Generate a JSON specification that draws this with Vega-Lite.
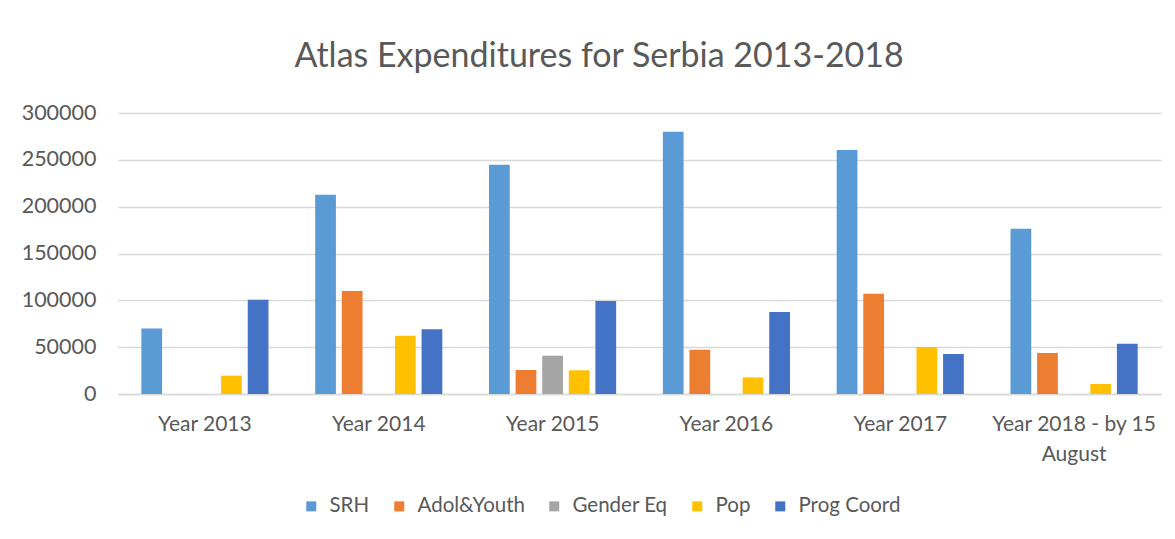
{
  "$schema": "https://vega.github.io/schema/vega-lite/v6.json",
  "width": 1043,
  "height": 281,
  "padding": {"left": 21, "top": 40, "right": 10, "bottom": 10},
  "background": "white",
  "title": {
    "text": "Atlas Expenditures for Serbia 2013-2018",
    "fontSize": 34,
    "font": "Lato",
    "fontWeight": "normal",
    "color": "#595959",
    "anchor": "middle",
    "frame": "bounds",
    "dx": 8,
    "offset": 28
  },
  "data": {
    "values": [
      {"year": "Year 2013", "area": "SRH", "value": 70000},
      {"year": "Year 2013", "area": "Adol&Youth", "value": 0},
      {"year": "Year 2013", "area": "Gender Eq", "value": 0},
      {"year": "Year 2013", "area": "Pop", "value": 19600},
      {"year": "Year 2013", "area": "Prog Coord", "value": 100700},
      {"year": "Year 2014", "area": "SRH", "value": 212800},
      {"year": "Year 2014", "area": "Adol&Youth", "value": 110000},
      {"year": "Year 2014", "area": "Gender Eq", "value": 0},
      {"year": "Year 2014", "area": "Pop", "value": 62300},
      {"year": "Year 2014", "area": "Prog Coord", "value": 69000},
      {"year": "Year 2015", "area": "SRH", "value": 244800},
      {"year": "Year 2015", "area": "Adol&Youth", "value": 25600},
      {"year": "Year 2015", "area": "Gender Eq", "value": 40900},
      {"year": "Year 2015", "area": "Pop", "value": 25300},
      {"year": "Year 2015", "area": "Prog Coord", "value": 99300},
      {"year": "Year 2016", "area": "SRH", "value": 280000},
      {"year": "Year 2016", "area": "Adol&Youth", "value": 47300},
      {"year": "Year 2016", "area": "Gender Eq", "value": 0},
      {"year": "Year 2016", "area": "Pop", "value": 17700},
      {"year": "Year 2016", "area": "Prog Coord", "value": 87500},
      {"year": "Year 2017", "area": "SRH", "value": 260500},
      {"year": "Year 2017", "area": "Adol&Youth", "value": 107100},
      {"year": "Year 2017", "area": "Gender Eq", "value": 0},
      {"year": "Year 2017", "area": "Pop", "value": 50200},
      {"year": "Year 2017", "area": "Prog Coord", "value": 42700},
      {"year": "Year 2018 - by 15 August", "area": "SRH", "value": 176500},
      {"year": "Year 2018 - by 15 August", "area": "Adol&Youth", "value": 43800},
      {"year": "Year 2018 - by 15 August", "area": "Gender Eq", "value": 0},
      {"year": "Year 2018 - by 15 August", "area": "Pop", "value": 10700},
      {"year": "Year 2018 - by 15 August", "area": "Prog Coord", "value": 53700}
    ]
  },
  "mark": {"type": "bar"},
  "encoding": {
    "x": {
      "field": "year",
      "type": "nominal",
      "sort": null,
      "title": null,
      "scale": {"paddingInner": 0.235, "paddingOuter": 0.1175},
      "axis": {
        "labelAngle": 0,
        "labelFontSize": 21,
        "labelFont": "Lato",
        "labelColor": "#595959",
        "labelPadding": 19,
        "labelLineHeight": 30,
        "ticks": false,
        "domainColor": "#D9D9D9",
        "domainWidth": 1.5,
        "labelExpr": "datum.label == 'Year 2018 - by 15 August' ? ['Year 2018 - by 15', 'August'] : datum.label"
      }
    },
    "xOffset": {
      "field": "area",
      "type": "nominal",
      "sort": ["SRH", "Adol&Youth", "Gender Eq", "Pop", "Prog Coord"],
      "scale": {"paddingInner": 0.22, "paddingOuter": 0.11}
    },
    "y": {
      "field": "value",
      "type": "quantitative",
      "title": null,
      "scale": {"domain": [0, 300000]},
      "axis": {
        "values": [0, 50000, 100000, 150000, 200000, 250000, 300000],
        "format": "d",
        "labelFontSize": 21.5,
        "labelFont": "Lato",
        "labelColor": "#595959",
        "labelPadding": 22,
        "ticks": false,
        "domain": false,
        "gridColor": "#D9D9D9",
        "gridWidth": 1.5
      }
    },
    "color": {
      "field": "area",
      "type": "nominal",
      "sort": ["SRH", "Adol&Youth", "Gender Eq", "Pop", "Prog Coord"],
      "scale": {
        "domain": ["SRH", "Adol&Youth", "Gender Eq", "Pop", "Prog Coord"],
        "range": ["#5B9BD5", "#ED7D31", "#A5A5A5", "#FFC000", "#4472C4"]
      },
      "legend": {
        "orient": "none",
        "legendX": 183,
        "legendY": 383,
        "direction": "horizontal",
        "title": null,
        "symbolType": "square",
        "symbolSize": 100,
        "symbolStrokeWidth": 0,
        "labelFontSize": 20.5,
        "labelFont": "Lato",
        "labelColor": "#595959",
        "columnPadding": 19,
        "labelOffset": 8
      }
    },
    "opacity": {
      "condition": {"test": "datum.value == 0", "value": 0},
      "value": 1
    }
  },
  "config": {"view": {"stroke": null}}
}
